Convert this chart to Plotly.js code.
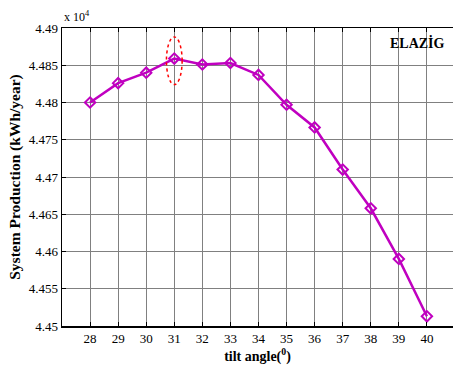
<!DOCTYPE html>
<html>
<head>
<meta charset="utf-8">
<script src="https://cdn.plot.ly/plotly-3.0.1.min.js"></script>
<style>html,body{margin:0;padding:0;background:#fff;}#chart{width:454px;height:374px;}</style>
</head>
<body>
<div id="chart"></div>
<script>
// tilt angle (degrees)
const tiltAngles = [28, 29, 30, 31, 32, 33, 34, 35, 36, 37, 38, 39, 40];
// system production, in units of 10^4 kWh/year
const production = [4.4800, 4.4826, 4.4840, 4.4859, 4.4851, 4.4853, 4.4837, 4.4797, 4.47665, 4.4710, 4.4658, 4.4590, 4.4513];
const yTicks = [4.45, 4.455, 4.46, 4.465, 4.47, 4.475, 4.48, 4.485, 4.49];
const yTickLabels = ['4.45', '4.455', '4.46', '4.465', '4.47', '4.475', '4.48', '4.485', '4.49'];
const locationLabel = 'ELAZİG';
const optimumAngle = 31;

const optIdx = tiltAngles.indexOf(optimumAngle);
const serif = 'Liberation Serif, Times New Roman, serif';

const trace = {
  x: tiltAngles,
  y: production,
  type: 'scatter',
  mode: 'lines+markers',
  line: {color: '#c000c0', width: 2.5},
  marker: {symbol: 'diamond-open', size: 8, color: '#c000c0', line: {width: 2, color: '#c000c0'}},
  hoverinfo: 'x+y'
};

const layout = {
  width: 454, height: 374,
  margin: {l: 62, r: 1, t: 28, b: 48},
  paper_bgcolor: '#fff', plot_bgcolor: '#fff',
  showlegend: false,
  font: {family: serif, size: 13, color: '#000'},
  xaxis: {
    range: [27, 40.93],
    tickvals: tiltAngles,
    ticktext: tiltAngles.map(String),
    ticks: 'inside', ticklen: 4, tickcolor: '#000',
    showline: true, linecolor: '#000', linewidth: 1.5, mirror: 'allticks',
    showgrid: true, gridcolor: '#808080', gridwidth: 1,
    zeroline: false,
    tickfont: {family: serif, size: 13, color: '#000'},
    title: {text: '<b>tilt angle(<sup>0</sup>)</b>', font: {family: serif, size: 14, color: '#000'}, standoff: 6}
  },
  yaxis: {
    range: [4.45, 4.49],
    tickvals: yTicks,
    ticktext: yTickLabels,
    ticks: 'inside', ticklen: 4, tickcolor: '#000',
    showline: true, linecolor: '#000', linewidth: 1.5, mirror: false,
    showgrid: true, gridcolor: '#808080', gridwidth: 1,
    zeroline: false,
    tickfont: {family: serif, size: 13, color: '#000'},
    title: {text: '<b>System Production (kWh/year)</b>', font: {family: serif, size: 15.5, color: '#000'}, standoff: 4}
  },
  shapes: [{
    type: 'circle', xref: 'x', yref: 'y',
    x0: tiltAngles[optIdx] - 0.28, x1: tiltAngles[optIdx] + 0.28,
    y0: production[optIdx] - 0.0035, y1: production[optIdx] + 0.0029,
    line: {color: '#ff0000', width: 1.5, dash: 'dot'}
  }],
  annotations: [
    {text: '<b>' + locationLabel + '</b>', xref: 'paper', yref: 'paper', x: 0.985, y: 0.95,
     xanchor: 'right', yanchor: 'middle', showarrow: false,
     font: {family: serif, size: 14, color: '#000'}},
    {text: 'x 10<sup>4</sup>', xref: 'paper', yref: 'paper', x: 0, y: 1, xanchor: 'left', yanchor: 'bottom',
     yshift: 2, showarrow: false, font: {family: serif, size: 12, color: '#000'}}
  ]
};

Plotly.newPlot('chart', [trace], layout, {displayModeBar: false, staticPlot: true});
</script>
</body>
</html>
